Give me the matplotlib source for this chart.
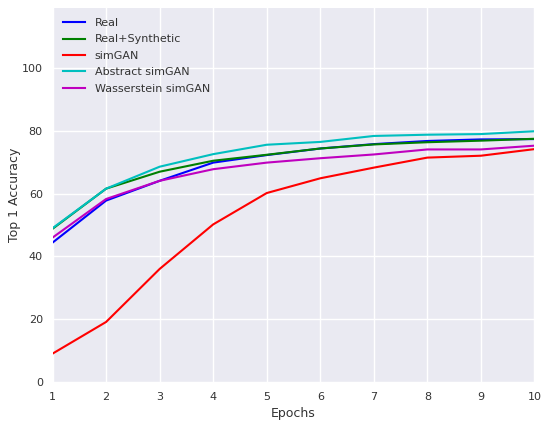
import matplotlib
matplotlib.use('Agg')
import matplotlib.pyplot as plt

epochs = [1, 2, 3, 4, 5, 6, 7, 8, 9, 10]

real = [44.4, 57.8, 64.1, 69.9, 72.3, 74.4, 75.8, 76.8, 77.3, 77.4]
real_synth = [48.8, 61.6, 67.0, 70.5, 72.4, 74.4, 75.7, 76.4, 76.9, 77.5]
simgan = [9.0, 19.1, 36.0, 50.2, 60.2, 64.9, 68.3, 71.5, 72.1, 74.2]
abstract_simgan = [49.0, 61.6, 68.6, 72.6, 75.6, 76.5, 78.4, 78.8, 79.0, 79.9]
wasserstein_simgan = [46.0, 58.3, 64.1, 67.8, 69.9, 71.3, 72.5, 74.1, 74.1, 75.3]

series = [
    ('Real', real, '#0000ff'),
    ('Real+Synthetic', real_synth, '#008000'),
    ('simGAN', simgan, '#ff0000'),
    ('Abstract simGAN', abstract_simgan, '#00bfbf'),
    ('Wasserstein simGAN', wasserstein_simgan, '#bf00bf'),
]

fig = plt.figure(figsize=(5.42, 4.21), dpi=100)
ax = fig.add_axes([0.097, 0.093, 0.889, 0.888])
ax.set_facecolor('#EAEAF2')
for s in ax.spines.values():
    s.set_visible(False)
ax.grid(True, color='white', linewidth=1.0)
ax.set_axisbelow(True)

for name, vals, col in series:
    ax.plot(epochs, vals, color=col, linewidth=1.5, label=name)

ax.set_xlim(1, 10)
ax.set_ylim(0, 119.2)
ax.set_xticks(epochs)
ax.set_yticks([0, 20, 40, 60, 80, 100])
ax.tick_params(axis='both', length=0, pad=7, labelsize=8, labelcolor='#333333')
ax.set_xlabel('Epochs', fontsize=9, color='#333333')
ax.set_ylabel('Top 1 Accuracy', fontsize=9, color='#333333')
ax.yaxis.set_label_coords(-0.065, 0.5)

leg = ax.legend(loc='upper left', frameon=False, fontsize=8, handlelength=2.0,
                borderaxespad=0.5, labelspacing=0.58, handletextpad=0.9)
for t in leg.get_texts():
    t.set_color('#333333')

fig.savefig('out.png', dpi=100)
